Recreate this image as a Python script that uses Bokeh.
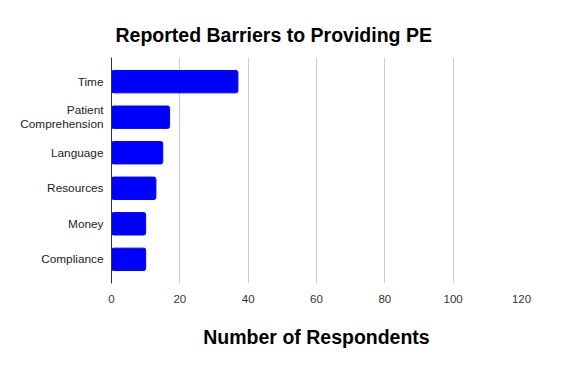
from bokeh.plotting import figure
from bokeh.models import Range1d, FixedTicker, Title, ColumnDataSource
from bokeh.embed import file_html
from bokeh.resources import INLINE

categories = ["Time", "Patient\nComprehension", "Language", "Resources", "Money", "Compliance"]
respondents = [37, 17, 15, 13, 10, 10]
x_ticks = [0, 20, 40, 60, 80, 100, 120]

FONT = "Liberation Sans"

n = len(categories)
ypos = [n - 1 - i for i in range(n)]  # first category on top
source = ColumnDataSource(data=dict(y=ypos, cat=categories, val=respondents))

pad = 0.18
p = figure(
    width=584, height=368,
    y_range=Range1d(-0.5 - pad, n - 0.5 + pad),
    x_range=Range1d(0, 120),
    output_backend="svg", toolbar_location=None,
    min_border_left=111, min_border_right=63, min_border_top=57, min_border_bottom=85,
)
p.title.visible = False
p.outline_line_color = None
p.background_fill_color = "white"
p.border_fill_color = "white"

p.hbar(y="y", right="val", left=0, height=0.63, source=source,
       fill_color="#0000ff", line_color="#0000ff", border_radius=2)

t = Title(text="Reported Barriers to Providing PE", align="left", offset=4,
          text_font=FONT, text_font_size="19.5px", text_font_style="bold",
          text_color="#000000", standoff=24)
p.add_layout(t, "above")

p.xaxis.ticker = FixedTicker(ticks=x_ticks)
p.xaxis.axis_line_color = None
p.xaxis.major_tick_line_color = None
p.xaxis.minor_tick_line_color = None
p.xaxis.major_label_text_font = FONT
p.xaxis.major_label_text_font_size = "11.5px"
p.xaxis.major_label_text_color = "#333333"
p.xaxis.major_label_standoff = 5
p.xaxis.axis_label = "Number of Respondents"
p.xaxis.axis_label_text_font = FONT
p.xaxis.axis_label_text_font_size = "19.5px"
p.xaxis.axis_label_text_font_style = "bold"
p.xaxis.axis_label_text_color = "#000000"
p.xaxis.axis_label_standoff = 20

# category labels: one tick per text line so every line is right-aligned
line_step = 0.4
y_ticks, overrides = [], {}
for yv, cat in zip(ypos, categories):
    lines = cat.split("\n")
    k = len(lines)
    for j, line in enumerate(lines):
        ty = round(yv + (k - 1) / 2 * line_step - j * line_step, 3)
        y_ticks.append(ty)
        overrides[ty] = line

p.yaxis.ticker = FixedTicker(ticks=y_ticks)
p.yaxis.major_label_overrides = overrides
p.yaxis.axis_line_color = "#333333"
p.yaxis.major_tick_line_color = None
p.yaxis.minor_tick_line_color = None
p.yaxis.major_label_text_font = FONT
p.yaxis.major_label_text_font_size = "11.8px"
p.yaxis.major_label_text_color = "#222222"
p.yaxis.major_label_standoff = 2

p.xgrid.grid_line_color = "#cccccc"
p.ygrid.grid_line_color = None

open("out.html", "w").write(file_html(p, INLINE))
